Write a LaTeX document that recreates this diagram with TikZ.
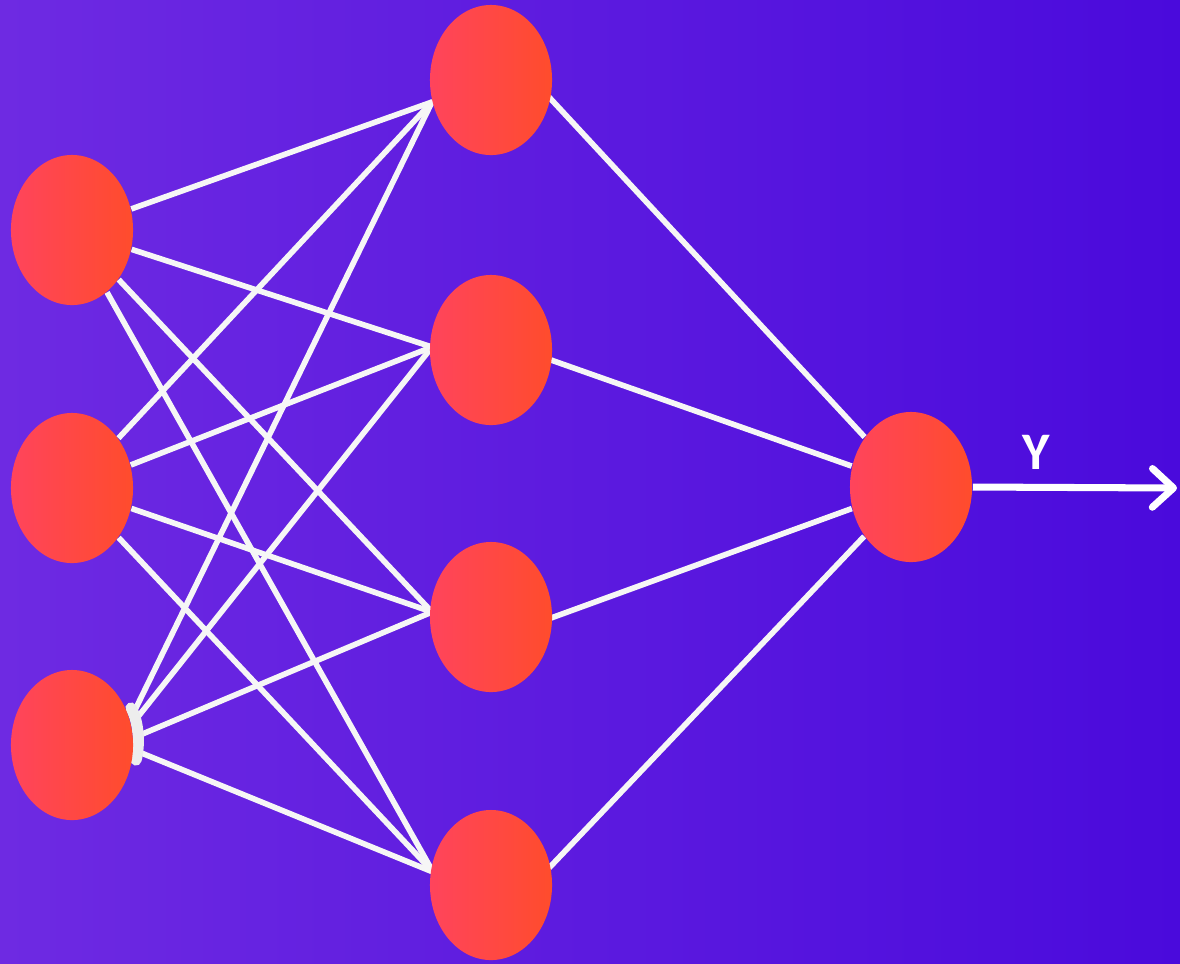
\documentclass[tikz,border=0pt]{standalone}
\usepackage{fontspec}
\setsansfont{Carlito}
\usetikzlibrary{shapes.geometric,arrows.meta}
\definecolor{bgL}{RGB}{110,42,226}
\definecolor{bgR}{RGB}{74,10,220}
\definecolor{nodeL}{RGB}{255,68,92}
\definecolor{nodeR}{RGB}{255,76,44}
\pgfdeclarelayer{bg}
\pgfdeclarelayer{edges}
\pgfsetlayers{bg,edges,main}
\begin{document}
\begin{tikzpicture}[x=0.01cm,y=-0.01cm,
  neuron/.style={ellipse,minimum width=1.22cm,minimum height=1.5cm,inner sep=0pt,
    left color=nodeL,right color=nodeR,draw=none},
  link/.style={draw=white!93!gray,line width=1.6pt},
  rim/.style={draw=white!86!gray,line width=3.2pt,line cap=round},
  outarrow/.style={draw=white,line width=2pt,-{Straight Barb[length=6pt,width=11pt,line cap=round,line join=round]}},
  lbl/.style={text=white,font=\sffamily\bfseries\fontsize{15}{17}\selectfont}]
\begin{pgfonlayer}{bg}
\shade[left color=bgL,right color=bgR] (0,0) rectangle (1180,963);
\end{pgfonlayer}
\useasboundingbox (0,0) rectangle (1180,963);
\node[neuron] (i1) at (72,230) {};
\node[neuron] (i2) at (72,488) {};
\node[neuron] (i3) at (72,745) {};
\node[neuron] (h1) at (491,80) {};
\node[neuron] (h2) at (491,350) {};
\node[neuron] (h3) at (491,617) {};
\node[neuron] (h4) at (491,885) {};
\node[neuron] (o) at (911,487) {};
% attachment points
\coordinate (i3h1) at (134,712);
\coordinate (i3h2) at (137,718);
\coordinate (i3h3) at (140,735);
\coordinate (i3h4) at (139,752);
\coordinate (h1w) at (432,102);
\coordinate (h2w) at (432,347);
\coordinate (h3w) at (432,612);
\coordinate (h4w) at (433,872);
\coordinate (h1e) at (548,96);
\coordinate (h2e) at (551,360);
\coordinate (h3e) at (551,618);
\coordinate (h4e) at (549,868);
\coordinate (rimA) at (131,708);
\coordinate (rimB) at (136,760);
\coordinate (end) at (1177,488);
\begin{pgfonlayer}{edges}
\foreach \h in {h1,h2,h3,h4}{
  \draw[link] (i1) -- (\h w);
  \draw[link] (i2) -- (\h w);
  \draw[link,line cap=round] (i3\h) -- (\h w);
  \draw[link] (\h e) -- (o);
}
\draw[rim] (rimA) .. controls (139,722) and (140,745) .. (rimB);
\end{pgfonlayer}
\draw[outarrow] (o.east) -- (end);
\node[lbl] (y) at (1036,452) {Y};
\end{tikzpicture}
\end{document}
